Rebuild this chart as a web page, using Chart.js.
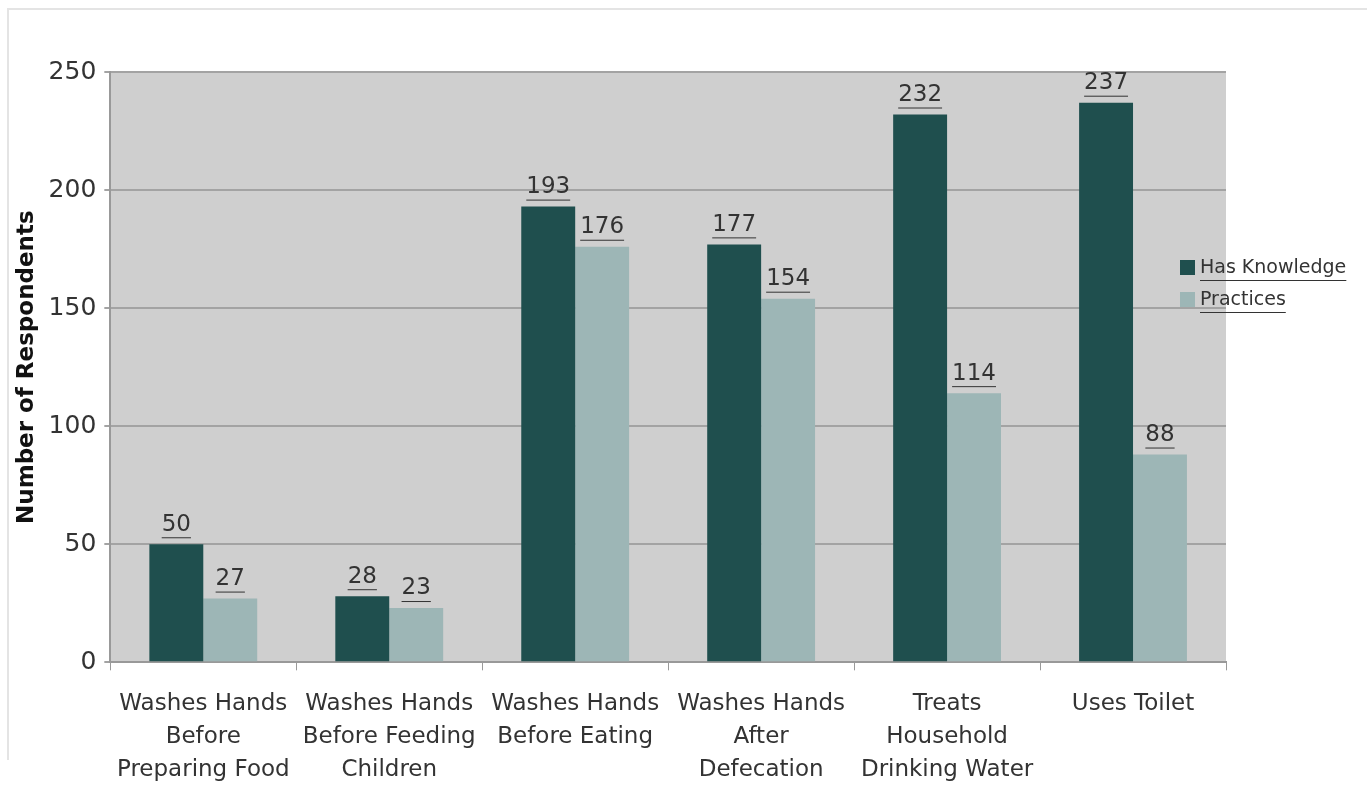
<!DOCTYPE html>
<html>
<head>
<meta charset="utf-8">
<script src="https://cdn.jsdelivr.net/npm/chart.js@4.4.1/dist/chart.umd.min.js"></script>
<style>
  html, body { margin: 0; padding: 0; background: #fff; }
  #wrap { position: relative; width: 1367px; height: 787px; }
  #frame { position: absolute; left: 7px; top: 8px; width: 1360px; height: 750px; border-left: 2px solid #e4e4e4; border-top: 2px solid #e4e4e4; pointer-events: none; }
</style>
</head>
<body>
<div id="wrap">
  <canvas id="barChart" width="1367" height="787"></canvas>
  <div id="frame"></div>
</div>
<script>
// カテゴリ（X軸）
const categories = [
  ['Washes Hands', 'Before', 'Preparing Food'],
  ['Washes Hands', 'Before Feeding', 'Children'],
  ['Washes Hands', 'Before Eating'],
  ['Washes Hands', 'After', 'Defecation'],
  ['Treats', 'Household', 'Drinking Water'],
  ['Uses Toilet']
];
// 系列データ
const hasKnowledge = [50, 28, 193, 177, 232, 237];
const practices = [27, 23, 176, 154, 114, 88];
const seriesNames = ['Has Knowledge', 'Practices'];
const yTicks = [0, 50, 100, 150, 200, 250];

const darkColor = '#1f4f4e';
const lightColor = '#9db6b6';
const textColor = '#333333';
const fontFamily = "'DejaVu Sans', sans-serif";

// プロット背景
const plotBg = {
  id: 'plotBg',
  beforeDraw(chart) {
    const { ctx, chartArea: a } = chart;
    ctx.save();
    ctx.fillStyle = '#cfcfcf';
    ctx.fillRect(a.left, a.top, a.right - a.left, a.bottom - a.top);
    ctx.restore();
  }
};

// バーの上の数値
const valueLabels = {
  id: 'valueLabels',
  afterDatasetsDraw(chart) {
    const ctx = chart.ctx;
    ctx.save();
    ctx.font = '23px ' + fontFamily;
    ctx.fillStyle = textColor;
    ctx.textAlign = 'center';
    ctx.textBaseline = 'bottom';
    chart.data.datasets.forEach((ds, di) => {
      chart.getDatasetMeta(di).data.forEach((bar, i) => {
        const txt = String(ds.data[i]);
        const y = bar.y - 8;
        ctx.fillText(txt, bar.x, y);
        const w = ctx.measureText(txt).width;
        ctx.fillRect(bar.x - w / 2, y + 1, w, 1);
      });
    });
    ctx.restore();
  }
};

// 右側の凡例
const sideLegend = {
  id: 'sideLegend',
  afterDraw(chart) {
    const ctx = chart.ctx;
    const x = 1180, y0 = 268, gap = 32;
    ctx.save();
    ctx.font = '19px ' + fontFamily;
    ctx.textBaseline = 'middle';
    ctx.textAlign = 'left';
    [darkColor, lightColor].forEach((c, i) => {
      const y = y0 + i * gap;
      ctx.fillStyle = c;
      ctx.fillRect(x, y - 8, 15, 15);
      ctx.fillStyle = textColor;
      ctx.fillText(seriesNames[i], x + 20, y);
      const w = ctx.measureText(seriesNames[i]).width;
      ctx.fillRect(x + 20, y + 12, w, 1);
    });
    ctx.restore();
  }
};

const ctx = document.getElementById('barChart').getContext('2d');
new Chart(ctx, {
  type: 'bar',
  data: {
    labels: categories,
    datasets: [
      { label: seriesNames[0], data: hasKnowledge, backgroundColor: darkColor },
      { label: seriesNames[1], data: practices, backgroundColor: lightColor }
    ]
  },
  options: {
    responsive: false,
    animation: false,
    layout: { padding: { top: 72, right: 141, left: 13, bottom: -16 } },
    datasets: { bar: { categoryPercentage: 0.58, barPercentage: 1.0 } },
    plugins: {
      legend: { display: false },
      tooltip: { enabled: false }
    },
    scales: {
      x: {
        grid: { offset: true, drawOnChartArea: false, drawTicks: true, tickLength: 8, color: '#999' },
        border: { color: '#999', width: 2 },
        ticks: { color: textColor, font: { family: fontFamily, size: 23, lineHeight: 1.43 }, maxRotation: 0, autoSkip: false, padding: 17 }
      },
      y: {
        min: 0, max: 250,
        afterBuildTicks(axis) { axis.ticks = yTicks.map(v => ({ value: v })); },
        grid: { color: '#a3a3a3', lineWidth: 2, drawTicks: true, tickLength: 6 },
        border: { color: '#999', width: 2 },
        ticks: { color: textColor, font: { family: fontFamily, size: 25 }, padding: 8 },
        title: { display: true, text: 'Number of Respondents', color: '#111', font: { family: fontFamily, size: 23, weight: 'bold' }, padding: { top: 0, bottom: 0 } }
      }
    }
  },
  plugins: [plotBg, valueLabels, sideLegend]
});
</script>
</body>
</html>
